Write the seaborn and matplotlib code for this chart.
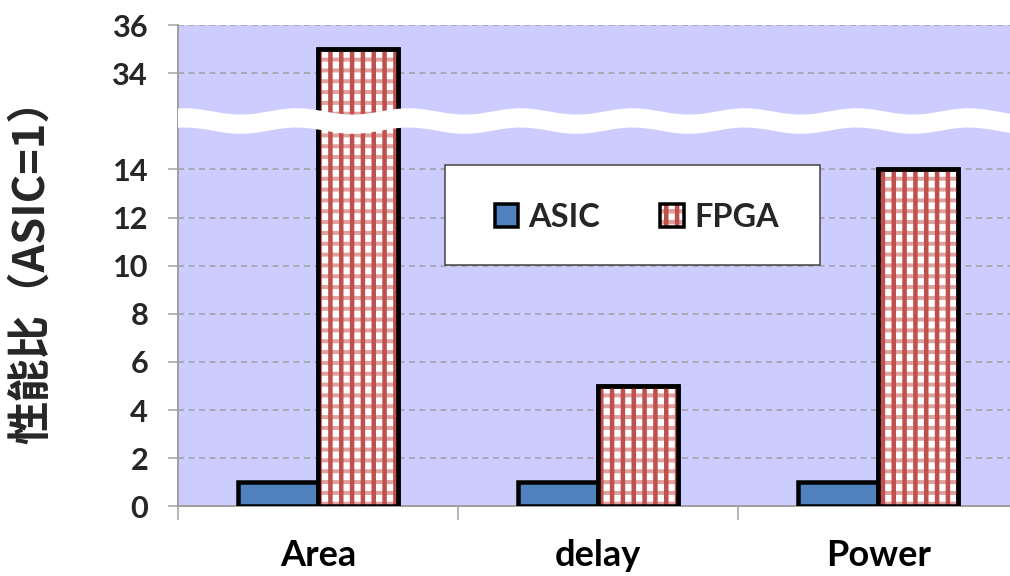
import numpy as np
import pandas as pd
import matplotlib
matplotlib.use("Agg")
import matplotlib.pyplot as plt
import seaborn as sns
from matplotlib.patches import Rectangle, Patch, Polygon
from matplotlib.legend_handler import HandlerTuple

# ---- data -------------------------------------------------------------
metrics = ["Area", "delay", "Power"]
devices = ["ASIC", "FPGA"]
asic_ratio = [1, 1, 1]
fpga_ratio = [35, 5, 14]
y_ticks = [0, 2, 4, 6, 8, 10, 12, 14, 34, 36]
y_label = "性能比（ASIC=1）"

# ---- style ------------------------------------------------------------
DPI = 130
PX = 72 / DPI            # points per pixel
BLUE = "#4F81BD"
RED = "#C0504D"
PINK = "#DFA09E"
BG = "#CCCCFF"
GRID = "#A0A0A0"

sns.set_theme(style="white")
plt.rcParams["font.family"] = ["Lato", "Noto Sans CJK SC", "DejaVu Sans"]
plt.rcParams["hatch.color"] = RED

# broken value axis: 16..32 is squeezed to almost nothing
LOW, HIGH, EPS = 16.0, 32.0, 1e-3
GAP = HIGH - LOW


def fwd(y):
    y = np.asarray(y, dtype=float)
    return np.where(y <= LOW, y,
                    np.where(y >= HIGH, y - GAP + GAP * EPS, LOW + (y - LOW) * EPS))


def inv(z):
    z = np.asarray(z, dtype=float)
    top = LOW + GAP * EPS
    return np.where(z <= LOW, z,
                    np.where(z >= top, z + GAP - GAP * EPS, LOW + (z - LOW) / EPS))


def hatched(xy, w, h, colour, pattern, lw_px, **kw):
    """A border-less rectangle carrying only a hatch of the given weight."""
    plt.rcParams["hatch.linewidth"] = lw_px * PX
    p = Rectangle(xy, w, h, facecolor="none", edgecolor=colour,
                  hatch=pattern, linewidth=0, **kw)
    if hasattr(p, "set_hatch_linewidth"):
        p.set_hatch_linewidth(lw_px * PX)
    return p


df = pd.DataFrame({
    "metric": metrics * 2,
    "device": ["ASIC"] * len(metrics) + ["FPGA"] * len(metrics),
    "ratio": asic_ratio + fpga_ratio,
})

fig = plt.figure(figsize=(1010.2 / DPI, 576.2 / DPI), dpi=DPI)
ax = fig.add_axes([178 / 1010, 70 / 576, 840 / 1010, 481 / 576])
ax.set_facecolor(BG)

sns.barplot(data=df, x="metric", y="ratio", hue="device", order=metrics,
            hue_order=devices, palette={"ASIC": BLUE, "FPGA": "white"},
            saturation=1, width=4 / 7, edgecolor="black",
            linewidth=4.5 * PX, legend=False, ax=ax, zorder=3)

ax.set_yscale("function", functions=(fwd, inv))

# gingham fill for the FPGA bars
for bar in ax.containers[1]:
    xy, w, h = bar.get_xy(), bar.get_width(), bar.get_height()
    ax.add_patch(hatched(xy, w, h, PINK, "--", 4.0, zorder=3.1))
    ax.add_patch(hatched(xy, w, h, RED, "||", 4.5, zorder=3.2))
    ax.add_patch(Rectangle(xy, w, h, facecolor="none", edgecolor="black",
                           linewidth=4.5 * PX, zorder=3.3))

# axes, ticks, grid
ax.set_xlim(-0.5, len(metrics) - 0.5)
ax.set_ylim(0, 36)
ax.set_yticks(y_ticks)
ax.set_yticklabels([str(t) for t in y_ticks])
ax.yaxis.grid(True, linestyle=(0, (4, 3)), color=GRID, linewidth=1.5 * PX)
ax.set_axisbelow(True)

ax.set_xticks(range(len(metrics)))
ax.set_xticklabels(metrics)
ax.set_xticks(np.arange(-0.5, len(metrics)), minor=True)
ax.tick_params(axis="x", which="major", length=0, pad=18,
               labelsize=20, labelcolor="black")
ax.tick_params(axis="x", which="minor", length=14 * PX, width=1.5 * PX,
               color=GRID, direction="out", bottom=True)
ax.tick_params(axis="y", length=10 * PX, width=1.5 * PX, color=GRID,
               direction="out", left=True, pad=11, labelsize=17)
for lab in ax.get_xticklabels() + ax.get_yticklabels():
    lab.set_fontweight("bold")

ax.set_xlabel("")
ax.set_ylabel(y_label, fontsize=24, fontweight="bold",
              fontfamily=["Noto Sans CJK SC", "DejaVu Sans"])
ax.yaxis.set_label_coords(-0.149, 0.51)

for side in ("top", "right"):
    ax.spines[side].set_visible(False)
for side in ("left", "bottom"):
    ax.spines[side].set_color(GRID)
    ax.spines[side].set_linewidth(2 * PX)
ax.spines["bottom"].set_zorder(2.9)

# white wavy band marking the axis break
xs = np.linspace(0, 1, 600)
centre = 0.800 + 0.0065 * np.sin(2 * np.pi * xs * 840 / 112 + 1.2)
half = 0.020
band = np.concatenate([np.column_stack([xs, centre + half]),
                       np.column_stack([xs[::-1], centre[::-1] - half])])
ax.add_patch(Polygon(band, closed=True, transform=ax.transAxes,
                     facecolor="white", edgecolor="none", zorder=6,
                     clip_on=False))
ax.set_xlim(-0.5, len(metrics) - 0.5)
ax.set_ylim(0, 36)

# legend on a white panel
ax.add_patch(Rectangle((0.318, 0.501), 0.446, 0.208, transform=ax.transAxes,
                       facecolor="white", edgecolor="#404040",
                       linewidth=1.5 * PX, zorder=7))
asic_handle = Patch(facecolor=BLUE, edgecolor="black", linewidth=3.5 * PX)
fpga_handle = (Patch(facecolor="white", edgecolor="none"),
               hatched((0, 0), 1, 1, PINK, "--", 4.0),
               hatched((0, 0), 1, 1, RED, "||", 4.5),
               Patch(facecolor="none", edgecolor="black", linewidth=3.5 * PX))
leg = ax.legend([asic_handle, fpga_handle], devices, loc="center",
                bbox_to_anchor=(0.546, 0.600), ncol=2, frameon=False,
                handler_map={tuple: HandlerTuple(ndivide=1)},
                prop={"weight": "bold", "size": 18},
                handlelength=0.72, handleheight=0.72,
                handletextpad=0.32, columnspacing=1.85)
leg.set_zorder(8)

fig.savefig("out.png", dpi=DPI, facecolor="white")
